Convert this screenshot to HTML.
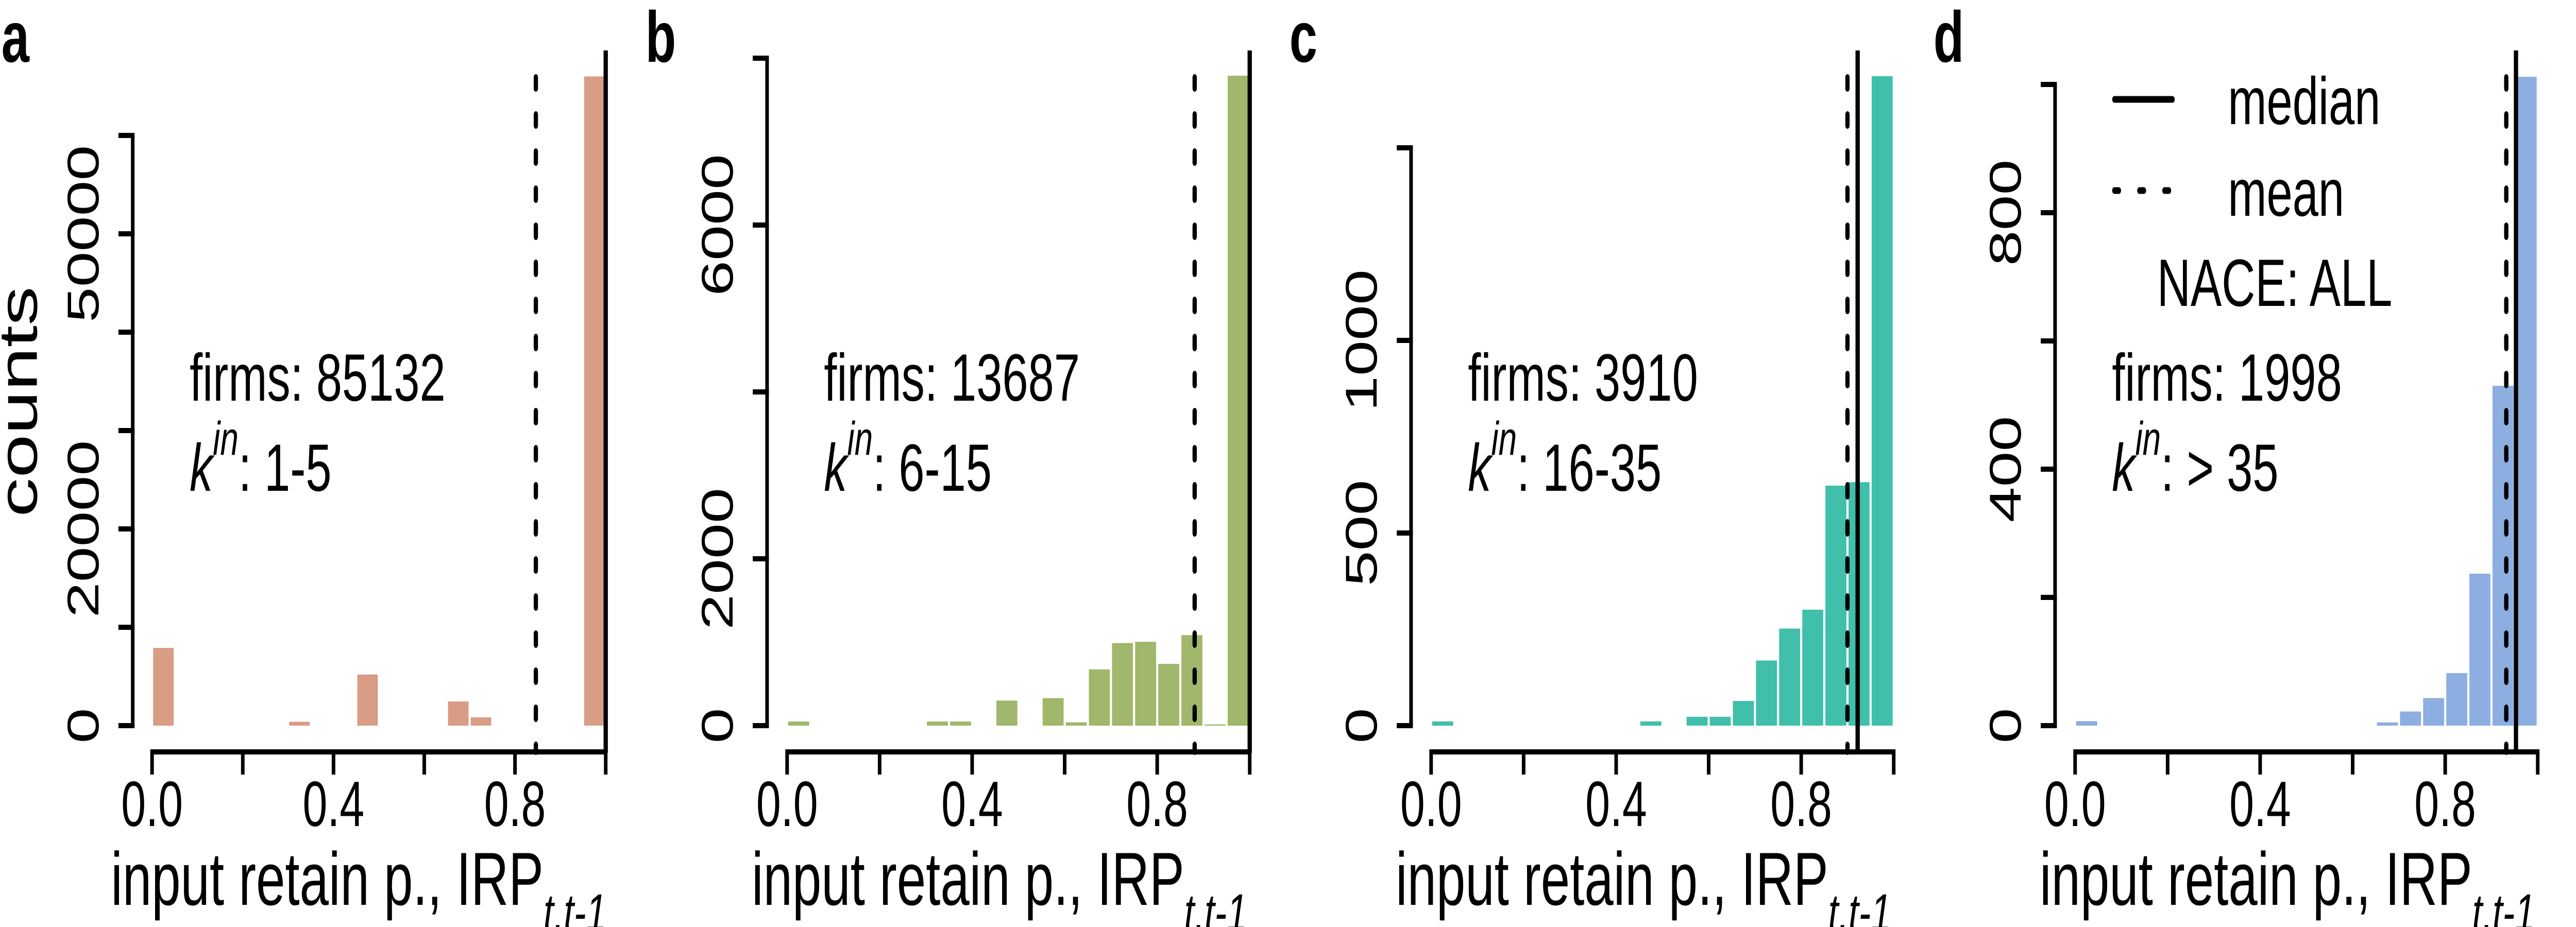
<!DOCTYPE html>
<html><head><meta charset="utf-8"><style>html,body{margin:0;padding:0;background:#fff;overflow:hidden;width:100%;height:100%}svg{display:block;width:100vw;height:100vh}text{font-family:"Liberation Sans",sans-serif;fill:#000}</style></head>
<body>
<svg id="fig" xmlns="http://www.w3.org/2000/svg" viewBox="0 0 7200 1800" preserveAspectRatio="none"></svg>
<script>
// ---- data ----
const binEdgesStep = 0.05;
const countsA = [7900,0,0,0,0,0,400,0,0,5200,0,0,0,2460,840,0,0,0,0,66000];
const countsB = [50,0,0,0,0,0,50,50,0,300,0,330,40,675,990,1005,740,1085,15,7790];
const countsC = [11,0,0,0,0,0,0,0,0,11,0,23,23,64,169,252,301,623,632,1686];
const countsD = [7,0,0,0,0,0,0,0,0,0,0,0,0,5,22,43,82,237,530,1012];
const medians = [1.0, 1.0, 0.922, 0.953];
const means = [0.846, 0.881, 0.900, 0.932];
const panelLetters = ["a","b","c","d"];
const firmsLabels = ["firms: 85132","firms: 13687","firms: 3910","firms: 1998"];
const kinLabels = [": 1-5",": 6-15",": 16-35",": > 35"];
const xTickValues = [0,0.2,0.4,0.6,0.8,1.0];
const xTickLabels = ["0.0","","0.4","","0.8",""];
const yTicksA = [0,10000,20000,30000,40000,50000,60000];
const yLabelsA = ["0","","20000","","","50000",""];
const yTicksB = [0,2000,4000,6000,8000];
const yLabelsB = ["0","2000","","6000",""];
const yTicksC = [0,500,1000,1500];
const yLabelsC = ["0","500","1000",""];
const yTicksD = [0,200,400,600,800,1000];
const yLabelsD = ["0","","400","","800",""];
// ---- layout ----
const panels = [
 {counts:countsA,yt:yTicksA,yl:yLabelsA,x0:425,x1:1693,ax:371,pxPer:191/10000,col:"#d99c84",title:310},
 {counts:countsB,yt:yTicksB,yl:yLabelsB,x0:2200,x1:3493,ax:2144,pxPer:324/2000,col:"#a1b76b",title:2101},
 {counts:countsC,yt:yTicksC,yl:yLabelsC,x0:4000,x1:5293,ax:3944,pxPer:374/500,col:"#40bfaa",title:3901},
 {counts:countsD,yt:yTicksD,yl:yLabelsD,x0:5800,x1:7093,ax:5744,pxPer:249/200,col:"#8caee0",title:5701}
];
const Y0 = 1409, XAXY = 1460;
const NS = "http://www.w3.org/2000/svg";
const svg = document.getElementById('fig');
function mk(tag, attrs, parent, txt){
  const e = document.createElementNS(NS, tag);
  for (const k in attrs) e.setAttribute(k, attrs[k]);
  if (txt !== undefined) e.textContent = txt;
  (parent||svg).appendChild(e); return e;
}
panels.forEach((p, i) => {
  const g = mk('g', {});
  
  
  const xs = v => p.x0 + v * (p.x1 - p.x0);
  const ys = v => Y0 - v * p.pxPer;
  p.counts.forEach((c, b) => {
    if (c <= 0) return;
    const xa = xs(b * binEdgesStep) + 3, xb = xs((b + 1) * binEdgesStep) - 3;
    const r = mk('rect', {x: xa, y: ys(c), width: xb - xa, height: Y0 - ys(c), fill: p.col}, g);
    
    
  });
  const ya = mk('line', {x1: p.ax, x2: p.ax, y1: ys(p.yt[p.yt.length-1]), y2: Y0, stroke: '#000', 'stroke-width': 10}, g);
  
  
  p.yt.forEach((t, k) => {
    mk('line', {x1: p.ax - 40, x2: p.ax + 5, y1: ys(t), y2: ys(t), stroke: '#000', 'stroke-width': 10}, g);
    if (p.yl[k]) {
      const tl = mk('text', {x: 0, y: 0, 'font-size': 124, 'text-anchor': 'middle', transform: `translate(${p.ax - 96},${ys(t)}) rotate(-90)`}, g, p.yl[k]);
      
      
    }
  });
  const xa = mk('line', {x1: p.x0, x2: p.x1, y1: XAXY, y2: XAXY, stroke: '#000', 'stroke-width': 10}, g);
  
  
  xTickValues.forEach((t, k) => {
    mk('line', {x1: xs(t), x2: xs(t), y1: XAXY - 5, y2: XAXY + 44, stroke: '#000', 'stroke-width': 10}, g);
    if (xTickLabels[k]) {
      const tl = mk('text', {x: xs(t), y: 1604, 'font-size': 124, 'text-anchor': 'middle'}, g, xTickLabels[k]);
      
      
    }
  });
  const med = mk('line', {x1: xs(medians[i]), x2: xs(medians[i]), y1: 98, y2: 1462, stroke: '#000', 'stroke-width': 12}, g);
  
  
  const mn = mk('line', {x1: xs(means[i]), x2: xs(means[i]), y1: 150, y2: 1460, stroke: '#000', 'stroke-width': 12, 'stroke-dasharray': '22 50', 'stroke-linecap': 'round'}, g);
  
  
  const base = p.ax + 159;
  const ft = mk('text', {x: base, y: 778, 'font-size': 130}, g, firmsLabels[i]);
  
  
  const kt = mk('text', {x: base, y: 953, 'font-size': 130}, g);
  
  
  mk('tspan', {'font-style': 'italic'}, kt, 'k');
  mk('tspan', {'font-style': 'italic', 'font-size': 92, dy: -70}, kt, 'in');
  mk('tspan', {dy: 70}, kt, kinLabels[i]);
  const xt = mk('text', {x: p.title, y: 1757, 'font-size': 146}, g);
  
  
  mk('tspan', {}, xt, 'input retain p., IRP');
  mk('tspan', {'font-style': 'italic', 'font-size': 102, dy: 50}, xt, 't,t-1');
  const pl = mk('text', {x: 4, y: 120, 'font-size': 140, 'font-weight': 'bold', transform: `translate(${i*1800},0)`}, g, panelLetters[i]);
  
  
});
const yl = mk('text', {x: 0, y: 0, 'font-size': 152, 'text-anchor': 'middle', transform: 'translate(103,780) rotate(-90)'}, svg, 'counts');


const lg = mk('g', {});


mk('line', {x1: 5910, x2: 6072, y1: 193, y2: 193, stroke: '#000', 'stroke-width': 13, 'stroke-linecap': 'round'}, lg);
mk('text', {x: 6227, y: 241, 'font-size': 130}, lg, 'median');
mk('line', {x1: 5910, x2: 6072, y1: 370, y2: 370, stroke: '#000', 'stroke-width': 13, 'stroke-linecap': 'round', 'stroke-dasharray': '12 58'}, lg);
mk('text', {x: 6227, y: 419, 'font-size': 130}, lg, 'mean');
const nace = mk('text', {x: 6029, y: 594, 'font-size': 130}, lg, 'NACE: ALL');


</script>
</body></html>
